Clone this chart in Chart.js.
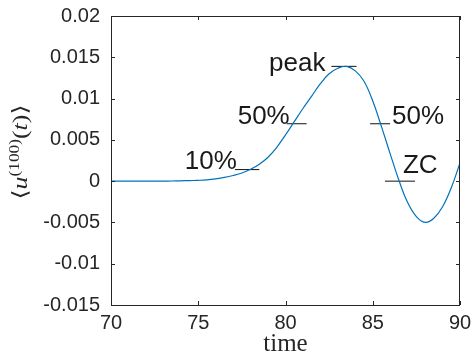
<!DOCTYPE html>
<html>
<head>
<meta charset="utf-8">
<script src="https://cdn.jsdelivr.net/npm/chart.js@4.4.1/dist/chart.umd.min.js"></script>
<style>
    html, body { margin: 0; padding: 0; background: #fff; }
    #wrap { width: 472px; height: 360px; }
</style>
</head>
<body>
<div id="wrap"><canvas id="chart"></canvas></div>
<script>
// Averaged response over time
const timeValues = [70, 70.5, 71, 71.5, 72, 72.5, 73, 73.5, 74, 74.5,
    75, 75.5, 76, 76.5, 77, 77.5, 78, 78.5, 79, 79.5,
    80, 80.5, 81, 81.5, 82, 82.5, 83, 83.5, 84, 84.5,
    85, 85.5, 86, 86.5, 87, 87.5, 88, 88.5, 89, 89.5, 90];
const uValues = [0, 0, 0, 0, 0, 0, 0.00001, 0.00002, 0.00004, 0.00007,
    0.0001, 0.00016, 0.00028, 0.00045, 0.00068, 0.00098, 0.00143, 0.00205, 0.0029, 0.0041,
    0.0056, 0.0072, 0.0088, 0.0103, 0.0118, 0.013, 0.01368, 0.0139, 0.01335, 0.0121,
    0.0097, 0.0066, 0.0033, 0.0001, -0.0026, -0.0043, -0.005, -0.0045, -0.0031, -0.0008, 0.0022];

const xTicks = [70, 75, 80, 85, 90];
const yTicks = [-0.015, -0.01, -0.005, 0, 0.005, 0.01, 0.015, 0.02];
const yTickLabels = ['-0.015', '-0.01', '-0.005', '0', '0.005', '0.01', '0.015', '0.02'];

// Event markers: 10% rise, 50% rise, peak, 50% fall, zero crossing
const markerLabels = ['10%', '50%', 'peak', '50%', 'ZC'];
const markerTimes = [77.8, 80.64, 83.35, 85.42, 86.56];
const markerValues = [0.0014, 0.00695, 0.0139, 0.00695, 0];
const markerHalfWidths = [0.7, 0.57, 0.72, 0.57, 0.86];

document.addEventListener('DOMContentLoaded', function() {
    const ctx = document.getElementById('chart');
    const axisColor = '#262626';

    const datasets = [{
        data: timeValues.map((t, i) => ({ x: t, y: uValues[i] })),
        borderColor: '#0072BD',
        borderWidth: 1.2,
        pointRadius: 0,
        tension: 0.4,
        fill: false
    }];

    markerTimes.forEach((t, i) => {
        datasets.push({
            data: [
                { x: t - markerHalfWidths[i], y: markerValues[i] },
                { x: t + markerHalfWidths[i], y: markerValues[i] }
            ],
            borderColor: '#111',
            borderWidth: 1,
            pointRadius: 0
        });
    });

    // text placement for each marker label (side, pixel offsets)
    const labelPlace = [
        { side: 'left', dx: 2, dy: -1 },
        { side: 'left', dx: 3, dy: 0 },
        { side: 'left', dx: -6, dy: 5 },
        { side: 'right', dx: 2, dy: 0 },
        { side: 'center', dx: 3, dy: -8 }
    ];

    // scales should not push the plot area around with label overhang
    const noOverhang = s => {
        s.paddingTop = 0; s.paddingBottom = 0;
        s.paddingLeft = 0; s.paddingRight = 0;
    };

    const decorations = {
        id: 'decorations',
        afterDraw(chart) {
            const c = chart.ctx;
            const a = chart.chartArea;
            const xs = chart.scales.x;
            const ys = chart.scales.y;
            c.save();

            // box with inward ticks
            c.strokeStyle = axisColor;
            c.lineWidth = 1;
            c.beginPath();
            c.rect(Math.round(a.left) + 0.5, Math.round(a.top) + 0.5,
                Math.round(a.right - a.left) - 1, Math.round(a.bottom - a.top));
            const tl = 4;
            xTicks.forEach(v => {
                const px = Math.round(xs.getPixelForValue(v)) + 0.5;
                c.moveTo(px, a.bottom); c.lineTo(px, a.bottom - tl);
                c.moveTo(px, a.top); c.lineTo(px, a.top + tl);
            });
            yTicks.forEach(v => {
                const py = Math.round(ys.getPixelForValue(v)) + 0.5;
                c.moveTo(a.left, py); c.lineTo(a.left + tl, py);
                c.moveTo(a.right, py); c.lineTo(a.right - tl, py);
            });
            c.stroke();

            // marker labels
            c.fillStyle = '#1a1a1a';
            c.font = '26px "Liberation Sans", Arial, sans-serif';
            c.textBaseline = 'alphabetic';
            markerLabels.forEach((txt, i) => {
                const p = labelPlace[i];
                const y = ys.getPixelForValue(markerValues[i]) + p.dy;
                let x;
                if (p.side === 'left') {
                    x = xs.getPixelForValue(markerTimes[i] - markerHalfWidths[i]) + p.dx;
                    c.textAlign = 'right';
                } else if (p.side === 'right') {
                    x = xs.getPixelForValue(markerTimes[i] + markerHalfWidths[i]) + p.dx;
                    c.textAlign = 'left';
                } else {
                    x = xs.getPixelForValue(markerTimes[i]) + p.dx;
                    c.textAlign = 'left';
                }
                c.fillText(txt, x, y);
            });

            // x axis title
            c.fillStyle = axisColor;
            c.font = '25px "Liberation Serif", "Times New Roman", serif';
            c.textAlign = 'center';
            c.fillText('time', (a.left + a.right) / 2, 351);

            // y axis title: <u^(100)(t)>
            const big = 21, small = 14;
            const parts = [
                { t: '\u27E8', f: big + 'px "DejaVu Serif", serif', rise: 0 },
                { t: 'u', f: 'italic ' + big + 'px "Liberation Serif", serif', rise: 0 },
                { t: '(100)', f: small + 'px "Liberation Serif", serif', rise: 8 },
                { t: '(', f: big + 'px "Liberation Serif", serif', rise: 0 },
                { t: 't', f: 'italic ' + big + 'px "Liberation Serif", serif', rise: 0 },
                { t: ')', f: big + 'px "Liberation Serif", serif', rise: 0 },
                { t: '\u27E9', f: big + 'px "DejaVu Serif", serif', rise: 0 }
            ];
            let total = 0;
            parts.forEach(p => { c.font = p.f; p.w = c.measureText(p.t).width; total += p.w; });
            const k = 95 / total;
            c.translate(27, 152);
            c.rotate(-Math.PI / 2);
            c.scale(k, 1);
            c.textAlign = 'left';
            let x = -total / 2;
            parts.forEach(p => {
                c.font = p.f;
                c.fillText(p.t, x, -p.rise);
                x += p.w;
            });
            c.restore();
        }
    };

    new Chart(ctx, {
        type: 'line',
        data: { datasets: datasets },
        options: {
            responsive: true,
            maintainAspectRatio: false,
            animation: false,
            layout: { padding: { top: 16, right: 12, left: 0, bottom: 0 } },
            plugins: { legend: { display: false }, tooltip: { enabled: false } },
            scales: {
                x: {
                    type: 'linear',
                    min: 70,
                    max: 90,
                    afterBuildTicks: s => { s.ticks = xTicks.map(v => ({ value: v })); },
                    afterFit: s => { s.height = 55; noOverhang(s); },
                    grid: { display: false, drawTicks: false },
                    border: { display: false },
                    ticks: {
                        padding: 6,
                        color: axisColor,
                        font: { family: '"Liberation Sans", Arial, sans-serif', size: 20 },
                        maxRotation: 0,
                        callback: v => String(v)
                    }
                },
                y: {
                    min: -0.015,
                    max: 0.02,
                    afterBuildTicks: s => { s.ticks = yTicks.map(v => ({ value: v })); },
                    afterFit: s => { s.width = 111; noOverhang(s); },
                    grid: { display: false, drawTicks: false },
                    border: { display: false },
                    ticks: {
                        padding: 11,
                        color: axisColor,
                        font: { family: '"Liberation Sans", Arial, sans-serif', size: 20 },
                        callback: (v, i) => yTickLabels[i]
                    }
                }
            }
        },
        plugins: [decorations]
    });
});
</script>
</body>
</html>
